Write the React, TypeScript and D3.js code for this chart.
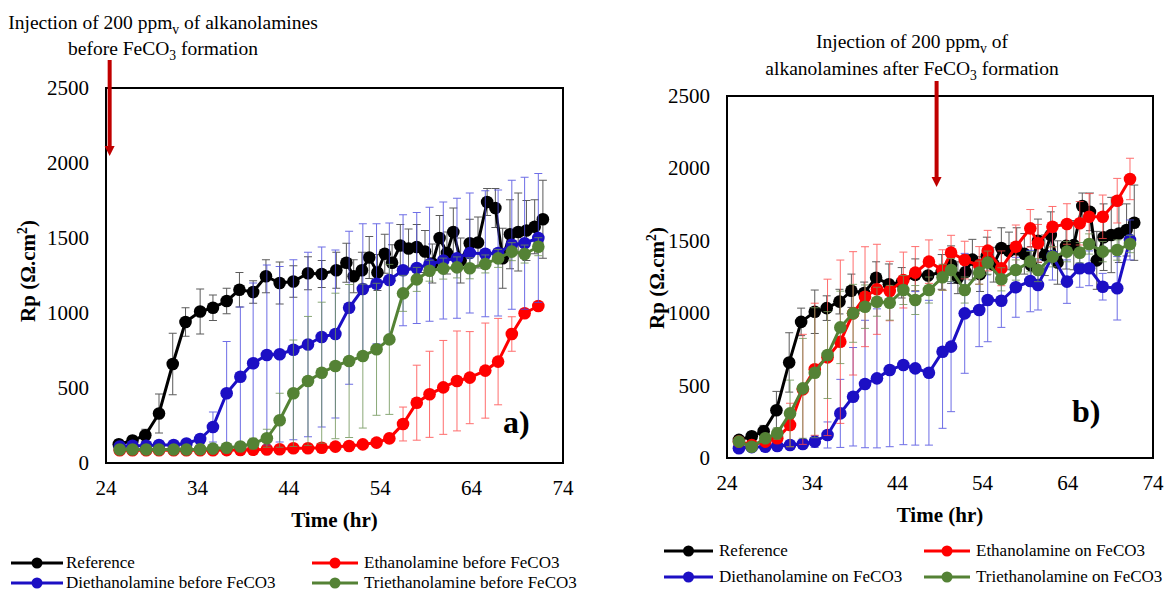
import React from 'react';
import * as d3 from 'd3';

// ---- data ----
const refTime = [25.4, 26.9, 28.3, 29.8, 31.3, 32.7, 34.3, 35.7, 37.2, 38.6, 40.1, 41.5, 43.0, 44.5, 46.1, 47.6, 49.2, 50.3, 51.1, 52.0, 52.8, 53.7, 54.5, 55.3, 56.2, 57.1, 58.0, 58.9, 59.7, 60.5, 61.3, 62.0, 62.8, 63.8, 64.7, 65.7, 66.6, 67.4, 68.2, 69.1, 70.0, 70.9, 71.8];
const refRp = [125, 150, 185, 330, 660, 940, 1010, 1035, 1080, 1155, 1140, 1245, 1200, 1210, 1265, 1260, 1285, 1335, 1245, 1285, 1370, 1270, 1395, 1335, 1450, 1430, 1440, 1410, 1330, 1500, 1400, 1540, 1350, 1465, 1470, 1740, 1700, 1365, 1525, 1540, 1550, 1575, 1625];
const refErr = [30, 30, 40, 130, 205, 95, 150, 85, 85, 115, 75, 110, 140, 105, 110, 90, 120, 130, 110, 120, 140, 120, 130, 120, 140, 130, 150, 140, 130, 150, 140, 160, 150, 160, 170, 90, 130, 200, 230, 260, 200, 180, 260];

// panel a (injection before FeCO3)
const timeA = [25.5, 26.9, 28.4, 29.8, 31.4, 32.8, 34.3, 35.7, 37.2, 38.7, 40.1, 41.6, 43.0, 44.5, 46.1, 47.6, 49.1, 50.6, 52.1, 53.6, 55.0, 56.5, 58.0, 59.4, 60.9, 62.4, 63.8, 65.5, 66.9, 68.4, 69.8, 71.3];
const meaBefore = [85, 85, 85, 85, 85, 85, 85, 85, 86, 87, 88, 90, 92, 98, 98, 102, 109, 113, 124, 136, 164, 260, 402, 458, 504, 547, 569, 616, 676, 860, 998, 1047];
const meaBeforeErr = [5, 5, 5, 5, 5, 5, 5, 5, 5, 5, 5, 5, 5, 10, 10, 10, 15, 15, 20, 25, 30, 113, 250, 287, 313, 333, 307, 317, 288, 115, 0, 0];
const deaBefore = [110, 115, 115, 120, 120, 130, 160, 240, 465, 575, 665, 720, 725, 755, 790, 840, 860, 1035, 1160, 1195, 1220, 1285, 1300, 1325, 1350, 1365, 1400, 1395, 1400, 1455, 1465, 1500];
const deaBeforeErr = [10, 10, 10, 10, 10, 15, 30, 100, 345, 465, 535, 600, 585, 600, 615, 600, 560, 510, 435, 400, 380, 370, 370, 380, 390, 400, 400, 420, 420, 430, 440, 430];
const teaBefore = [90, 90, 90, 90, 90, 90, 92, 96, 102, 110, 130, 165, 285, 465, 547, 602, 647, 680, 713, 758, 824, 1131, 1224, 1282, 1296, 1304, 1298, 1327, 1364, 1409, 1393, 1442];
const teaBeforeErr = [5, 5, 5, 5, 5, 5, 5, 10, 15, 20, 35, 60, 180, 355, 430, 470, 485, 510, 480, 440, 500, 120, 80, 70, 70, 70, 70, 60, 60, 60, 60, 60];

// panel b (injection on FeCO3)
const timeB = [25.4, 26.9, 28.5, 29.9, 31.4, 32.9, 34.3, 35.8, 37.3, 38.8, 40.2, 41.6, 43.1, 44.7, 46.1, 47.7, 49.3, 50.3, 51.9, 53.6, 54.6, 56.2, 57.9, 59.6, 60.5, 62.2, 63.9, 65.4, 66.5, 68.1, 69.8, 71.3];
const meaOn = [113, 90, 113, 136, 228, 474, 613, 695, 803, 999, 1114, 1165, 1153, 1229, 1280, 1356, 1298, 1418, 1367, 1330, 1432, 1310, 1459, 1586, 1483, 1597, 1616, 1621, 1666, 1666, 1777, 1927];
const meaOnErr = [10, 10, 15, 30, 150, 380, 456, 540, 564, 426, 345, 311, 205, 193, 180, 150, 140, 120, 130, 130, 140, 120, 150, 130, 130, 140, 140, 150, 160, 150, 154, 143];
const deaOn = [67, 75, 78, 83, 90, 97, 113, 159, 308, 423, 511, 550, 608, 642, 619, 589, 734, 769, 999, 1022, 1091, 1086, 1179, 1222, 1195, 1395, 1218, 1310, 1310, 1183, 1172, 1506];
const deaOnErr = [10, 10, 10, 15, 20, 25, 40, 90, 235, 340, 440, 480, 530, 550, 530, 500, 529, 449, 414, 253, 288, 184, 207, 212, 173, 166, 150, 131, 120, 92, 219, 138];
const teaOn = [113, 78, 136, 170, 308, 481, 589, 711, 902, 999, 1045, 1079, 1072, 1160, 1091, 1160, 1248, 1298, 1160, 1280, 1349, 1234, 1298, 1356, 1298, 1390, 1425, 1418, 1478, 1425, 1436, 1478];
const teaOnErr = [10, 10, 20, 40, 230, 345, 449, 300, 250, 200, 150, 100, 120, 100, 100, 90, 90, 80, 90, 80, 80, 80, 70, 70, 80, 70, 70, 70, 70, 70, 70, 60];

const xTicks = [24, 34, 44, 54, 64, 74];
const yTicks = [0, 500, 1000, 1500, 2000, 2500];
const injectA = 24.4;
const injectB = 48.6;

const FONT = "'Liberation Serif', 'Times New Roman', serif";
const COL = { black: '#000000', red: '#ff0000', blue: '#1c0fc4', green: '#548235' };
const ERRCOL = { black: '#333333', red: '#ff4a4a', blue: '#4a4ae0', green: '#6f9457' };

type Series = { t: number[]; v: number[]; e: number[]; color: keyof typeof COL };

function Sub({ children }: { children: string }) {
  return <tspan dy={5} fontSize="0.7em">{children}</tspan>;
}

interface PanelProps {
  left: number; right: number; top: number; bottom: number;
  series: Series[];
  inject: number; arrowTop: number; arrowTip: number;
  tag: string; tagX: number; tagY: number;
  titleX: number; titleY: number;
}

function Panel({ left, right, top, bottom, series, inject, arrowTop, arrowTip, tag, tagX, tagY, titleX, titleY }: PanelProps) {
  const x = d3.scaleLinear().domain([24, 74]).range([left, right]);
  const y = d3.scaleLinear().domain([0, 2500]).range([bottom, top]);
  const line = d3.line<[number, number]>().x(d => x(d[0])).y(d => y(d[1]));
  const ax = x(inject);
  return (
    <g>
      {yTicks.map(t => (
        <text key={'y' + t} x={left - 17} y={y(t) + 7} textAnchor="end" fontSize={21} fontFamily={FONT}>{t}</text>
      ))}
      {xTicks.map(t => (
        <text key={'x' + t} x={x(t)} y={bottom + 32} textAnchor="middle" fontSize={21} fontFamily={FONT}>{t}</text>
      ))}
      {series.map((s, si) => {
        const pts = s.t.map((t, i) => [t, s.v[i]] as [number, number]);
        return (
          <g key={si}>
            {s.t.map((t, i) => s.e[i] > 0 ? (
              <g key={i} stroke={ERRCOL[s.color]} strokeWidth={1} opacity={0.8}>
                <line x1={x(t)} x2={x(t)} y1={y(s.v[i] - s.e[i])} y2={y(s.v[i] + s.e[i])} />
                <line x1={x(t) - 4} x2={x(t) + 4} y1={y(s.v[i] + s.e[i])} y2={y(s.v[i] + s.e[i])} />
                <line x1={x(t) - 4} x2={x(t) + 4} y1={y(s.v[i] - s.e[i])} y2={y(s.v[i] - s.e[i])} />
              </g>
            ) : null)}
            <path d={line(pts) || ''} fill="none" stroke={COL[s.color]} strokeWidth={3} />
            {pts.map((p, i) => (
              <circle key={i} cx={x(p[0])} cy={y(p[1])} r={6.3} fill={COL[s.color]} />
            ))}
          </g>
        );
      })}
      <rect x={left} y={top} width={right - left} height={bottom - top} fill="none" stroke="#000" strokeWidth={2} />
      <line x1={ax} x2={ax} y1={arrowTop} y2={arrowTip - 9} stroke="#c00000" strokeWidth={4} />
      <path d={`M${ax - 5},${arrowTip - 10} L${ax + 5},${arrowTip - 10} L${ax},${arrowTip} Z`} fill="#c00000" />
      <text x={tagX} y={tagY} fontSize={32} fontWeight="bold" fontFamily={FONT}>{tag}</text>
      <text transform={`translate(${titleX},${titleY}) rotate(-90)`}
        textAnchor="middle" fontSize={21} fontWeight="bold" fontFamily={FONT}>
        Rp (Ω.cm<tspan dy={-8} fontSize="0.65em">2</tspan><tspan dy={8}>)</tspan>
      </text>
      <text x={(left + right) / 2} y={bottom + 64} textAnchor="middle" fontSize={21} fontWeight="bold" fontFamily={FONT}>Time (hr)</text>
    </g>
  );
}

function LegendItem({ x0, x1, tx, y, color, label }: { x0: number; x1: number; tx: number; y: number; color: keyof typeof COL; label: string }) {
  return (
    <g>
      <line x1={x0} x2={x1} y1={y} y2={y} stroke={COL[color]} strokeWidth={3} />
      <circle cx={(x0 + x1) / 2} cy={y} r={5.5} fill={COL[color]} />
      <text x={tx} y={y + 5} fontSize={17} fontFamily={FONT}>{label}</text>
    </g>
  );
}

export default function App() {
  const seriesA: Series[] = [
    { t: refTime, v: refRp, e: refErr, color: 'black' },
    { t: timeA, v: meaBefore, e: meaBeforeErr, color: 'red' },
    { t: timeA, v: deaBefore, e: deaBeforeErr, color: 'blue' },
    { t: timeA, v: teaBefore, e: teaBeforeErr, color: 'green' },
  ];
  const seriesB: Series[] = [
    { t: refTime, v: refRp, e: refErr, color: 'black' },
    { t: timeB, v: deaOn, e: deaOnErr, color: 'blue' },
    { t: timeB, v: meaOn, e: meaOnErr, color: 'red' },
    { t: timeB, v: teaOn, e: teaOnErr, color: 'green' },
  ];
  return (
    <svg width={1164} height={591} style={{ position: 'absolute', left: 0, top: 0, background: '#fff' }}>
      <rect width={1164} height={591} fill="#fff" />
      <text x={163} y={29} textAnchor="middle" fontSize={19.5} fontFamily={FONT}>
        Injection of 200 ppm<Sub>v</Sub><tspan dy={-5}> of alkanolamines</tspan>
      </text>
      <text x={163} y={55} textAnchor="middle" fontSize={19.5} fontFamily={FONT}>
        before FeCO<Sub>3</Sub><tspan dy={-5}> formation</tspan>
      </text>
      <text x={912} y={48} textAnchor="middle" fontSize={19.5} fontFamily={FONT}>
        Injection of 200 ppm<Sub>v</Sub><tspan dy={-5}> of</tspan>
      </text>
      <text x={912} y={75} textAnchor="middle" fontSize={19.5} fontFamily={FONT}>
        alkanolamines after FeCO<Sub>3</Sub><tspan dy={-5}> formation</tspan>
      </text>

      <Panel left={106} right={563} top={88} bottom={463} series={seriesA}
        inject={injectA} arrowTop={60} arrowTip={156} tag="a)" tagX={503} tagY={433}
        titleX={35} titleY={271} />
      <Panel left={727} right={1153} top={96} bottom={458} series={seriesB}
        inject={injectB} arrowTop={81} arrowTip={187} tag="b)" tagX={1072} tagY={422}
        titleX={664} titleY={278} />

      <LegendItem x0={11} x1={63} tx={66} y={563} color="black" label="Reference" />
      <LegendItem x0={312} x1={358} tx={364} y={563} color="red" label="Ethanolamine before FeCO3" />
      <LegendItem x0={11} x1={63} tx={66} y={583} color="blue" label="Diethanolamine before FeCO3" />
      <LegendItem x0={312} x1={358} tx={364} y={583} color="green" label="Triethanolamine before FeCO3" />

      <LegendItem x0={664} x1={713} tx={719} y={551} color="black" label="Reference" />
      <LegendItem x0={924} x1={970} tx={976} y={551} color="red" label="Ethanolamine on FeCO3" />
      <LegendItem x0={664} x1={713} tx={719} y={577} color="blue" label="Diethanolamine on FeCO3" />
      <LegendItem x0={924} x1={970} tx={976} y={577} color="green" label="Triethanolamine on FeCO3" />
    </svg>
  );
}
